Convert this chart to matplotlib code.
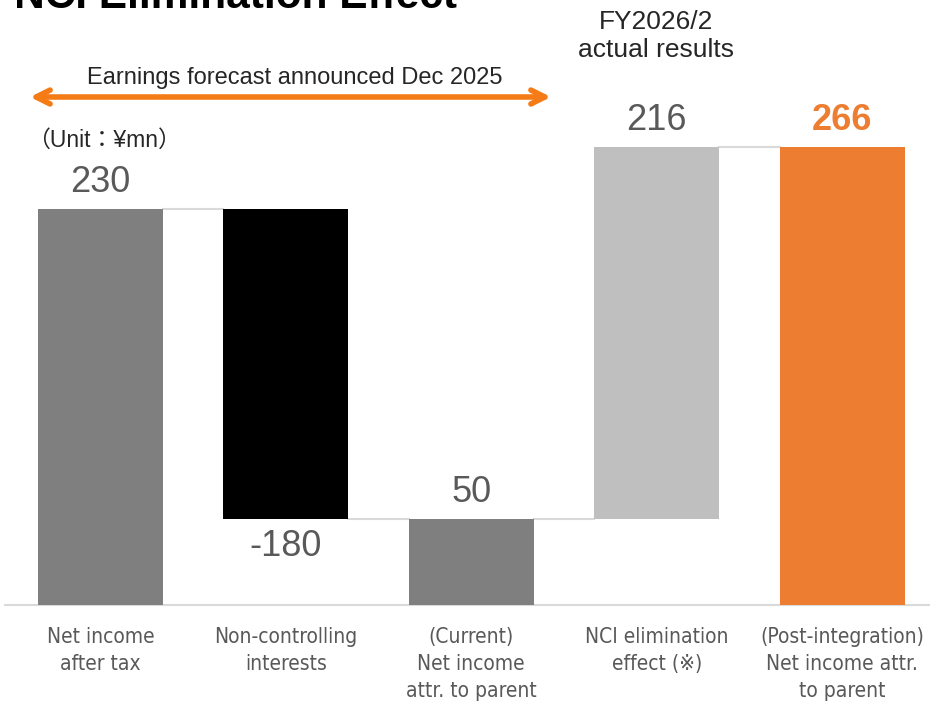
import matplotlib
matplotlib.use("Agg")
import matplotlib.pyplot as plt

# data
categories = ["Net income\nafter tax", "Non-controlling\ninterests",
              "(Current)\nNet income\nattr. to parent", "NCI elimination\neffect (※)",
              "(Post-integration)\nNet income attr.\nto parent"]
values = [230, -180, 50, 216, 266]
kinds = ["total", "delta", "total", "delta", "total"]
colors = ["#7F7F7F", "#000000", "#7F7F7F", "#BFBFBF", "#ED7D31"]

# waterfall bottoms / tops
bottoms, tops = [], []
run = 0
for v, k in zip(values, kinds):
    if k == "total":
        bottoms.append(0)
        tops.append(v)
        run = v
    else:
        lo, hi = sorted([run, run + v])
        bottoms.append(lo)
        tops.append(hi)
        run = run + v

fig = plt.figure(figsize=(9.3, 7.07), dpi=100)
ax = fig.add_axes([5 / 930, 102 / 707, 925 / 930, 605 / 707])
xs = list(range(len(values)))
w = 0.674
ax.bar(xs, [t - b for t, b in zip(tops, bottoms)], bottom=bottoms, width=w,
       color=colors, zorder=3)

# connectors
levels = [230, 50, 50, 266]
for i, lv in enumerate(levels):
    ax.plot([i + w / 2, i + 1 - w / 2], [lv, lv], color="#D9D9D9", lw=1.5, zorder=2)

ax.set_xlim((5 - 100.5) / 185.4, (930 - 100.5) / 185.4)
ax.set_ylim(0, 605 / 1.722)
for s in ["top", "right", "left"]:
    ax.spines[s].set_visible(False)
ax.spines["bottom"].set_color("#D9D9D9")
ax.spines["bottom"].set_linewidth(1.5)
ax.set_yticks([])
ax.set_xticks(xs)
ax.set_xticklabels(categories, fontsize=15, color="#595959", linespacing=1.42,
                   family="DejaVu Sans", fontstretch="condensed")
ax.tick_params(axis="x", length=0, pad=16)

# value labels
for i, (v, k) in enumerate(zip(values, kinds)):
    if v < 0:
        ax.text(i, bottoms[i] - 6, str(v), ha="center", va="top", fontsize=26,
                color="#595959", family="Liberation Sans")
    elif i == len(values) - 1:
        ax.text(i, tops[i] + 5, str(v), ha="center", va="bottom", fontsize=26,
                color="#ED7D31", fontweight="bold", family="Liberation Sans")
    else:
        ax.text(i, tops[i] + 5, str(v), ha="center", va="bottom", fontsize=26,
                color="#595959", family="Liberation Sans")

# annotations
ax.annotate("", xy=(30 / 930, 1 - 97 / 707), xytext=(551 / 930, 1 - 97 / 707),
            xycoords="figure fraction", textcoords="figure fraction",
            arrowprops=dict(arrowstyle="<->,head_length=1.0,head_width=0.5",
                            color="#F47B16", lw=4, shrinkA=0, shrinkB=0,
                            capstyle="round", joinstyle="round"))
fig.text(295 / 930, 1 - 78 / 707, "Earnings forecast announced Dec 2025", ha="center",
         va="center", fontsize=17, color="#262626", family="Liberation Sans")
fig.text(27 / 930, 1 - 140 / 707, "（Unit：¥mn）", ha="left", va="center", fontsize=16.5,
         color="#262626", family=["Liberation Sans", "Noto Sans CJK JP"])
fig.text(656 / 930, 1 - 36 / 707, "FY2026/2\nactual results", ha="center", va="center",
         fontsize=19, color="#262626", linespacing=1.25, family="Liberation Sans")
fig.text(0 / 930, 1 - 8 / 707, "-NCI Elimination Effect", ha="left", va="baseline",
         fontsize=30.5, fontweight="bold", color="#000000", family="Liberation Sans")

fig.savefig("out.png", dpi=100)
